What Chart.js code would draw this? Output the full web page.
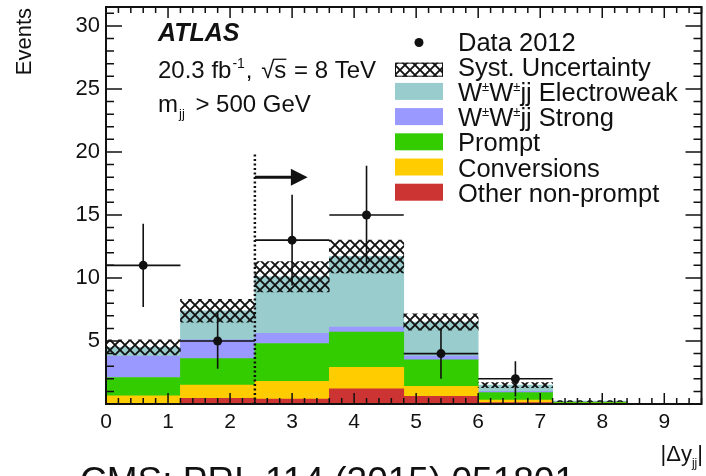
<!DOCTYPE html>
<html><head><meta charset="utf-8">
<script src="https://cdn.jsdelivr.net/npm/chart.js@4.4.0/dist/chart.umd.min.js"></script>
<style>html,body{margin:0;padding:0;background:#fff;} canvas{display:block}</style>
</head><body>
<canvas id="c" width="706" height="476"></canvas>
<script>
// ---- data ----
const bins = ['0-1.2','1.2-2.4','2.4-3.6','3.6-4.8','4.8-6.0','6.0-7.2','7.2-8.4','8.4-9.6'];
const otherNonPrompt = [0.05, 0.45, 0.40, 1.20, 0.60, 0.12, 0.03, 0];
const conversions    = [0.60, 1.05, 1.40, 1.70, 0.80, 0.20, 0.05, 0];
const prompt         = [1.45, 2.10, 3.00, 2.80, 2.10, 0.58, 0.08, 0];
const wwStrong       = [1.70, 1.50, 0.80, 0.40, 0.30, 0.10, 0.02, 0];
const wwElectroweak  = [0.70, 2.30, 4.50, 5.60, 2.70, 0.50, 0.05, 0];
const systUncertainty= [0.60, 0.90, 1.20, 1.30, 0.65, 0.20, 0.05, 0];
const dataX   = [0.6, 1.8, 3.0, 4.2, 5.4, 6.6];
const dataY   = [11, 5, 13, 15, 4, 2];
const dataErr = [3.3, 2.2, 3.6, 3.9, 2.0, 1.4];
const binHalfWidth = 0.6;
const xTicks = [0,1,2,3,4,5,6,7,8,9];
const yTicks = [5,10,15,20,25,30];
const cutValue = 2.4;

const FONT = "'Liberation Sans', Arial, sans-serif";
const canvas = document.getElementById('c');
const ctx0 = canvas.getContext('2d');

function makeHatch(){
  const c = document.createElement('canvas'); c.width = 10; c.height = 10;
  const g = c.getContext('2d');
  g.strokeStyle = '#111'; g.lineWidth = 1.9;
  g.beginPath(); g.moveTo(-1,-1); g.lineTo(11,11); g.moveTo(11,-1); g.lineTo(-1,11); g.stroke();
  return ctx0.createPattern(c, 'repeat');
}
const hatch = makeHatch();

const totals = bins.map((_, i) => otherNonPrompt[i] + conversions[i] + prompt[i] + wwStrong[i] + wwElectroweak[i]);
const systBand = totals.map((t, i) => systUncertainty[i] > 0 ? [t - systUncertainty[i], t + systUncertainty[i]] : null);

function rich(ctx, x, y, parts, align){
  let w = 0;
  parts.forEach(p => { ctx.font = `${p.style||''} ${p.weight||''} ${p.size}px ${FONT}`; p.w = ctx.measureText(p.t).width; w += p.w + (p.gap||0); });
  let cx = align === 'right' ? x - w : x;
  ctx.textAlign = 'left'; ctx.textBaseline = 'alphabetic';
  parts.forEach(p => {
    ctx.font = `${p.style||''} ${p.weight||''} ${p.size}px ${FONT}`;
    ctx.fillText(p.t, cx, y + (p.dy||0));
    if (p.over) { ctx.beginPath(); ctx.lineWidth = 1.3; ctx.moveTo(cx - 1, y - p.size*0.78); ctx.lineTo(cx + p.w, y - p.size*0.78); ctx.stroke(); }
    cx += p.w + (p.gap||0);
  });
}

const overlay = {
  id: 'overlay',
  afterDatasetsDraw(chart){
    const {ctx, chartArea: a, scales} = chart;
    const xs = scales.xt, ys = scales.y;
    const X = v => xs.getPixelForValue(v), Y = v => ys.getPixelForValue(v);
    ctx.save();
    ctx.fillStyle = '#111'; ctx.strokeStyle = '#111';
    // error bars
    ctx.lineWidth = 1.6;
    dataX.forEach((x, i) => {
      ctx.beginPath();
      ctx.moveTo(X(x - binHalfWidth), Y(dataY[i])); ctx.lineTo(X(x + binHalfWidth), Y(dataY[i]));
      ctx.moveTo(X(x), Y(dataY[i] - dataErr[i])); ctx.lineTo(X(x), Y(dataY[i] + dataErr[i]));
      ctx.stroke();
    });
    // cut line and arrow
    ctx.save();
    ctx.setLineDash([2, 2.5]); ctx.lineWidth = 2.5;
    ctx.beginPath(); ctx.moveTo(X(cutValue), Y(0)); ctx.lineTo(X(cutValue), Y(20)); ctx.stroke();
    ctx.restore();
    ctx.lineWidth = 3;
    ctx.beginPath(); ctx.moveTo(X(cutValue), Y(18)); ctx.lineTo(X(3.02), Y(18)); ctx.stroke();
    ctx.beginPath(); ctx.moveTo(X(2.98), Y(18) - 8.5); ctx.lineTo(X(3.25), Y(18)); ctx.lineTo(X(2.98), Y(18) + 8.5); ctx.closePath(); ctx.fill();
    // frame
    ctx.lineWidth = 2;
    ctx.strokeRect(a.left, a.top, a.right - a.left, a.bottom - a.top);
    // ticks
    ctx.lineWidth = 1.5;
    ctx.beginPath();
    for (let v = 0; v <= 31; v++) {
      const L = v % 5 === 0 ? 16 : 8, py = Y(v);
      ctx.moveTo(a.left, py); ctx.lineTo(a.left + L, py);
      ctx.moveTo(a.right, py); ctx.lineTo(a.right - L, py);
    }
    for (let k = 0; k <= 48; k++) {
      const v = k * 0.2, L = k % 5 === 0 ? 11 : 6, px = X(v);
      ctx.moveTo(px, a.bottom); ctx.lineTo(px, a.bottom - L);
      ctx.moveTo(px, a.top); ctx.lineTo(px, a.top + L);
    }
    ctx.stroke();
    ctx.restore();
  },
  afterDraw(chart){
    const {ctx} = chart;
    ctx.save();
    ctx.fillStyle = '#111'; ctx.strokeStyle = '#111';
    // ATLAS labels
    rich(ctx, 158, 41, [{t:'ATLAS', size:25, weight:'bold', style:'italic'}]);
    rich(ctx, 158, 78, [{t:'20.3 fb', size:24, gap:1}, {t:'-1', size:14, dy:-10, gap:1}, {t:', ', size:24, gap:2}, {t:'√', size:24}, {t:'s', size:24, over:true, gap:1}, {t:' = 8 TeV', size:24}]);
    rich(ctx, 158, 112, [{t:'m', size:24, gap:1}, {t:'jj', size:13, dy:6, gap:4}, {t:' > 500 GeV', size:24}]);
    // legend
    const lx = 395, lw = 48, tx = 458;
    const rows = [
      {label:[{t:'Data 2012', size:25.5}], kind:'dot'},
      {label:[{t:'Syst. Uncertainty', size:25.5}], kind:'hatch'},
      {label:[{t:'W', size:25.5},{t:'±', size:13, dy:-10},{t:'W', size:25.5},{t:'±', size:13, dy:-10},{t:'jj Electroweak', size:25.5}], color:'#99CCCC'},
      {label:[{t:'W', size:25.5},{t:'±', size:13, dy:-10},{t:'W', size:25.5},{t:'±', size:13, dy:-10},{t:'jj Strong', size:25.5}], color:'#9999FF'},
      {label:[{t:'Prompt', size:25.5}], color:'#33CC00'},
      {label:[{t:'Conversions', size:25.5}], color:'#FFCC00'},
      {label:[{t:'Other non-prompt', size:25.5}], color:'#CC3333'}
    ];
    rows.forEach((r, i) => {
      const by = 50.5 + 25.2 * i;
      if (r.kind === 'dot') { ctx.beginPath(); ctx.arc(lx + lw/2, by - 8, 4.5, 0, Math.PI*2); ctx.fill(); }
      else if (r.kind === 'hatch') { ctx.fillStyle = hatch; ctx.fillRect(lx, by - 13, lw, 14); ctx.fillStyle = '#111'; ctx.lineWidth = 1; ctx.strokeRect(lx + 0.5, by - 12.5, lw - 1, 13); }
      else { ctx.fillStyle = r.color; ctx.fillRect(lx, by - 18, lw, 17); ctx.fillStyle = '#111'; }
      rich(ctx, tx, by, r.label);
    });
    // axis titles
    rich(ctx, 703, 461, [{t:'|Δy', size:22}, {t:'jj', size:12, dy:6}, {t:'|', size:22}], 'right');
    ctx.save();
    ctx.translate(31, 8); ctx.rotate(-Math.PI/2);
    ctx.font = `22px ${FONT}`; ctx.textAlign = 'right'; ctx.textBaseline = 'alphabetic';
    ctx.fillText('Events', 0, 0);
    ctx.restore();
    // source caption
    ctx.font = `37px ${FONT}`; ctx.textAlign = 'left'; ctx.textBaseline = 'alphabetic';
    ctx.fillText('CMS: PRL 114 (2015) 051801', 80, 493);
    ctx.restore();
  }
};

const barDs = (label, data, color) => ({type:'bar', label, data, backgroundColor: color, borderWidth: 0,
  xAxisID:'x', yAxisID:'y', barPercentage:1, categoryPercentage:1, grouped:false, order: 2});

new Chart(canvas, {
  type: 'bar',
  data: {
    labels: bins,
    datasets: [
      barDs('Other non-prompt', otherNonPrompt, '#CC3333'),
      barDs('Conversions', conversions, '#FFCC00'),
      barDs('Prompt', prompt, '#33CC00'),
      barDs('W±W±jj Strong', wwStrong, '#9999FF'),
      barDs('W±W±jj Electroweak', wwElectroweak, '#99CCCC'),
      {type:'bar', label:'Syst. Uncertainty', data: systBand, backgroundColor: hatch, borderWidth:0,
        xAxisID:'x', yAxisID:'y', barPercentage:1, categoryPercentage:1, stack:'syst', grouped:false, order:1},
      {type:'scatter', label:'Data 2012', data: dataX.map((x, i) => ({x, y: dataY[i]})),
        xAxisID:'xt', yAxisID:'y', pointRadius:4.5, pointBackgroundColor:'#111', pointBorderWidth:0, order:0}
    ]
  },
  options: {
    responsive: false, animation: false,
    layout: {padding: {top: 7, right: 4, left: 0, bottom: 0}},
    plugins: {legend: {display: false}, tooltip: {enabled: false}},
    scales: {
      x: {type:'category', display:false, stacked:true, offset:true},
      xt: {type:'linear', position:'bottom', min:0, max:9.6, offset:false,
        afterBuildTicks: s => { s.ticks = xTicks.map(v => ({value: v})); },
        afterFit: s => { s.height = 72; s.paddingLeft = 0; s.paddingRight = 0; },
        grid: {display:false, drawTicks:false, offset:false}, border: {display:false},
        ticks: {font:{family:FONT, size:21}, color:'#111', padding:6, maxRotation:0, autoSkip:false}},
      y: {type:'linear', min:0, max:31.5, stacked:true,
        afterBuildTicks: s => { s.ticks = yTicks.map(v => ({value: v})); },
        afterFit: s => { s.width = 106; s.paddingTop = 0; s.paddingBottom = 0; },
        grid: {display:false, drawTicks:false}, border: {display:false},
        ticks: {font:{family:FONT, size:22}, color:'#111', padding:6}}
    }
  },
  plugins: [overlay]
});
</script>
</body></html>
